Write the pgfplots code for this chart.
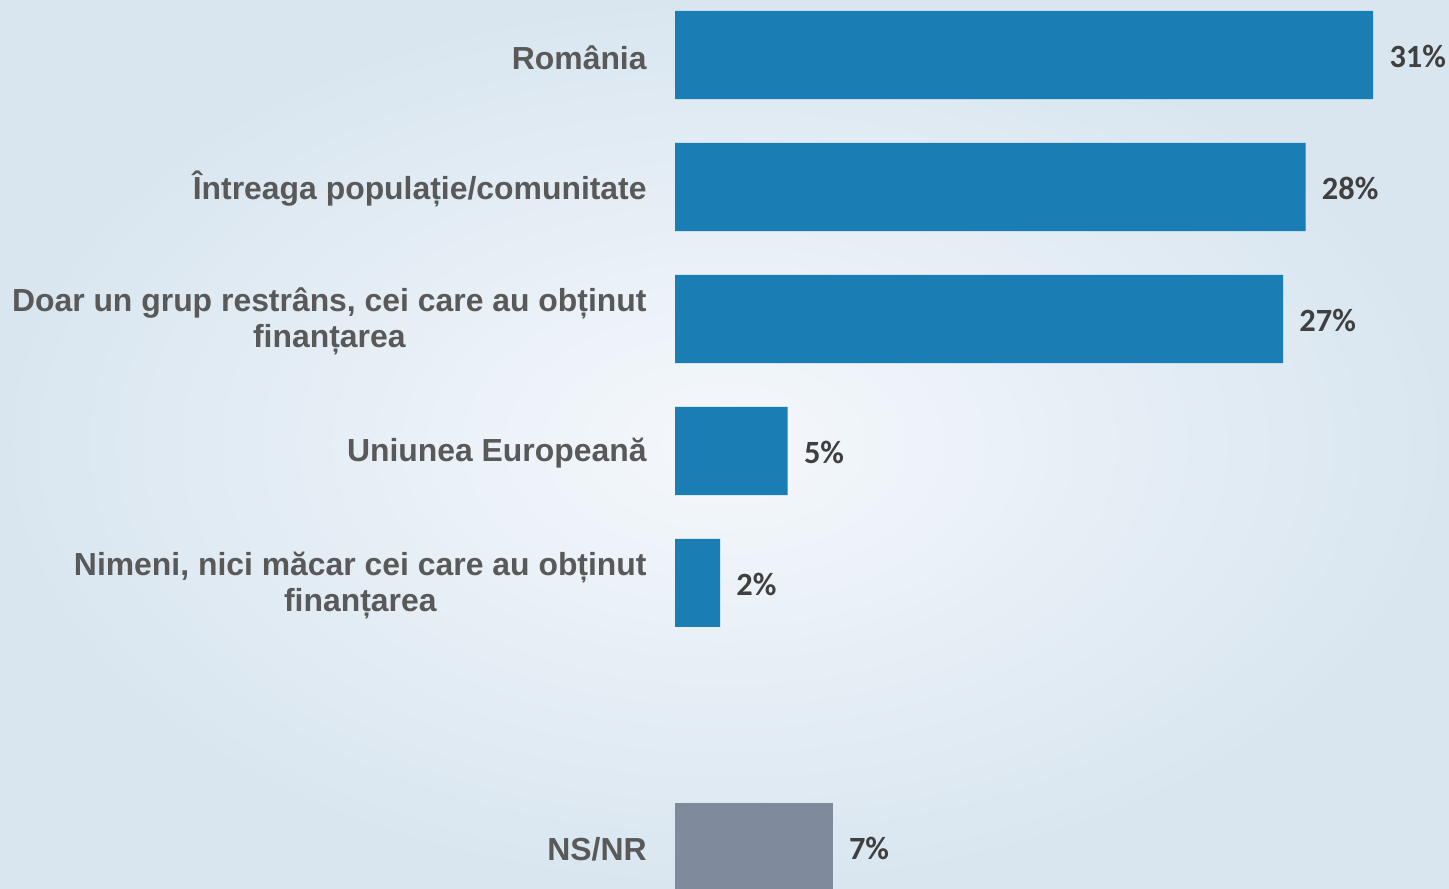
\documentclass[border=0pt]{standalone}
\usepackage{pgfplots}
\pgfplotsset{compat=1.18}
\usepackage{fontspec}
\setmainfont{Liberation Sans}
\newfontfamily\valfont{Carlito}
\definecolor{barblue}{HTML}{1A7DB3}
\definecolor{bargray}{HTML}{7F8A9C}
\definecolor{labgray}{HTML}{595959}
\definecolor{valgray}{HTML}{404040}
\definecolor{bgout}{HTML}{D9E6F0}
\definecolor{bgin}{HTML}{F5F8FC}
\begin{document}
\begin{tikzpicture}
\useasboundingbox (0,0) rectangle (724.5pt,444pt);
\shade[inner color=bgin, outer color=bgout] (0,0) rectangle (724.5pt,444pt);
\begin{axis}[
  at={(337.5pt,0pt)}, anchor=south west,
  scale only axis, width=387pt, height=444pt,
  xmin=0, xmax=34.37, ymin=-0.4167, ymax=6.311,
  y dir=reverse, clip=false,
  xbar, bar width=0.667, bar shift=0pt,
  axis line style={draw=none},
  xtick=\empty,
  ytick={0,1,2,3,4,6},
  yticklabels={Rom\^ania, Întreaga populație/comunitate, {Doar un grup restrâns, cei care au obținut\\finanțarea}, Uniunea Europeană, {Nimeni, nici măcar cei care au obținut\\finanțarea}, NS/NR},
  major tick length=0pt,
  yticklabel style={font=\bfseries\fontsize{15.95}{18}\selectfont, text=labgray, align=center, inner sep=0pt, xshift=-14pt, yshift=-1.2pt},
  point meta=explicit symbolic,
  nodes near coords,
  nodes near coords style={font=\valfont\bfseries\fontsize{16.2}{18}\selectfont, text=valgray, anchor=west, inner sep=0pt, xshift=8pt, yshift=-0.8pt},
]
\addplot[draw=none, fill=barblue] coordinates {(31,0) [31\%] (28,1) [28\%] (27,2) [27\%] (5,3) [5\%] (2,4) [2\%]};
\addplot[draw=none, fill=bargray] coordinates {(7,6) [7\%]};
\end{axis}
\end{tikzpicture}
\end{document}
